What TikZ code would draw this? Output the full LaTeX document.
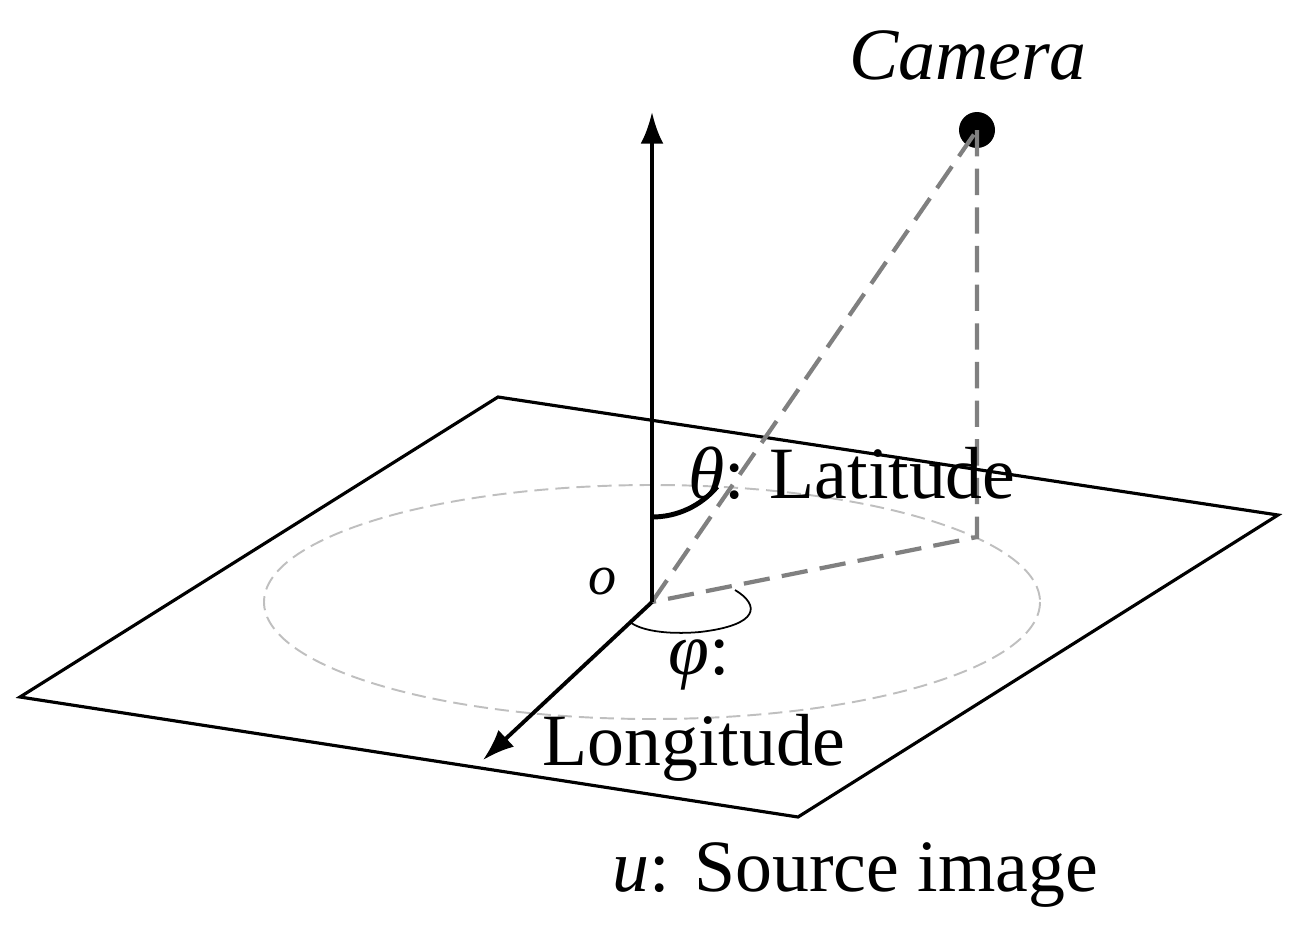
\documentclass[tikz,border=0pt]{standalone}
\usepackage{fontspec}
\setmainfont{Liberation Serif}
\usetikzlibrary{arrows.meta}
\begin{document}
\begin{tikzpicture}[x=0.02cm,y=-0.02cm,
  lbl/.style={font=\fontsize{42}{44}\selectfont, inner sep=0pt},
  gdash/.style={draw=gray, line width=2.4pt, dash pattern=on 15pt off 7pt},
  axis/.style={line width=2.2pt, -{Latex[length=18pt,width=13pt]}}]
\useasboundingbox (0,0) rectangle (1297,933);
\coordinate (O) at (652,602);
\coordinate (F) at (977,537);
\node[circle, fill=black, minimum size=0.72cm, inner sep=0pt] (cam) at (977,130) {};
\draw[line width=1.8pt] (498,397) -- (1278,515) -- (798,817) -- (20,697) -- cycle;
\draw[gray!50, line width=1.1pt, dash pattern=on 8pt off 4pt] (652,602) ellipse [x radius=388, y radius=117];
\draw[gdash] (O) -- (cam.center);
\draw[gdash] (cam.center) -- (F) -- (O);
\draw[axis] (O) -- (652,112) coordinate (up);
\draw[axis] (O) -- (483,760) coordinate (lon);
\draw[line width=2.8pt] (652,517) arc[start angle=90, end angle=40, x radius=85, y radius=85];
\draw[line width=1pt] (735,590) .. controls (760,605) and (760,625) .. (700,632) .. controls (665,635) and (640,630) .. (630,622);
\node[lbl, font=\fontsize{32}{34}\selectfont] (o) at (603,582) {\itshape o};
\node[lbl, anchor=west] (lat) at (688,473) {\textit{θ}: Latitude};
\node[lbl, anchor=west] (phi) at (668,665) {\textit{φ}:};
\node[lbl, anchor=west] (lon2) at (542,748) {Longitude};
\node[lbl, anchor=west] (src) at (612,875) {\textit{u}: Source image};
\node[lbl] (camlbl) at (968,55) {\itshape Camera};
\end{tikzpicture}
\end{document}
